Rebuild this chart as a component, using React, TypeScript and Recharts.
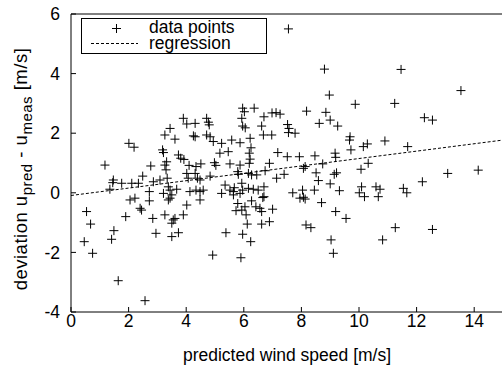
import React from 'react';
import { ScatterChart, Scatter, XAxis, YAxis, ReferenceLine } from 'recharts';

const speedValues: number[] = [
  7.55, 8.80, 11.46, 8.97, 13.54, 9.87, 11.24, 6.98, 7.12, 7.26, 8.18, 8.85, 7.52, 7.57, 7.55, 7.78, 6.97,
  8.62, 9.00, 9.26, 12.27, 12.55, 9.69, 9.67, 10.15, 10.29, 10.90, 11.69, 9.72, 7.18, 7.51, 7.93, 8.47,
  9.17, 9.19, 8.07, 8.13, 8.74, 8.51, 9.14, 9.22, 10.07, 10.32, 7.14, 7.40, 8.59, 9.00, 8.04, 8.45, 9.32,
  7.70, 7.95, 8.07, 8.13, 8.70, 10.09, 10.01, 10.19, 10.59, 10.73, 10.67, 11.54, 11.66, 12.20, 13.08, 14.14,
  7.00, 9.19, 9.55, 8.16, 8.33, 11.26, 12.55, 9.03, 10.82, 9.11,
  2.01, 2.19, 3.18, 3.21, 1.18, 2.77, 3.32, 3.26, 3.73, 3.81, 3.92, 4.10, 4.34, 4.51, 4.98, 5.03, 5.17,
  5.46, 5.52, 5.87, 6.25, 6.19, 6.22, 6.19, 6.89, 2.49, 1.45, 1.47, 1.76, 2.11, 2.34, 1.35, 2.86, 3.09,
  3.34, 2.72, 3.38, 3.44, 3.67, 3.50, 3.21, 4.02, 4.07, 4.31, 4.39, 4.48, 4.13, 4.48, 4.59, 4.83, 5.35,
  5.52, 5.64, 5.93, 5.96, 5.23, 5.64, 5.87, 6.16, 6.27, 6.45, 6.16, 6.33, 6.50, 6.70, 6.74, 6.70, 6.27,
  6.56, 2.05, 2.22, 2.72, 3.38, 3.44, 4.02, 4.48, 2.40, 2.45, 0.54, 0.68, 1.90, 2.84, 3.26, 3.55, 3.61,
  3.50, 3.90, 1.49, 1.41, 2.95, 3.50, 3.73, 0.46, 0.75, 1.64, 2.57, 4.92, 5.90, 5.38, 5.96, 6.24, 5.73,
  5.93, 6.04, 6.08, 6.12, 6.62, 6.62, 6.89, 5.79, 6.42, 6.66,
  5.96, 6.02, 6.36, 5.93, 6.70, 3.90, 4.02, 4.31, 4.71, 4.77, 4.80, 3.44, 3.26, 3.61, 4.25, 4.31, 4.71,
  4.83, 4.94, 5.23, 5.58, 5.87, 6.22, 5.96, 6.05, 6.62, 6.68, 5.79, 5.81, 4.34, 5.67, 3.30,
];

const deviationValues: number[] = [
  5.50, 4.15, 4.14, 3.28, 3.43, 2.97, 3.00, 2.68, 2.69, 2.64, 2.74, 2.70, 2.29, 2.16, 2.02, 2.00, 1.94,
  2.33, 2.44, 2.24, 2.52, 2.44, 1.88, 1.77, 1.55, 1.64, 1.74, 1.55, 1.44, 1.35, 1.21, 1.21, 1.24,
  1.33, 1.19, 0.82, 0.88, 0.97, 0.67, 0.62, 0.67, 0.79, 0.99, 0.49, 0.62, 0.41, 0.30, 0.09, 0.09, 0.07,
  0.00, -0.18, -0.15, -0.21, -0.33, 0.20, 0.00, -0.13, 0.20, 0.12, -0.13, 0.15, 0.00, 0.37, 0.65, 0.76,
  -0.55, -0.63, -0.86, -1.08, -1.17, -1.17, -1.23, -1.58, -1.58, -2.03,
  1.66, 1.53, 1.44, 1.35, 0.93, 0.90, 1.04, 0.93, 1.27, 1.16, 1.12, 0.92, 0.88, 0.97, 1.01, 0.92, 1.33,
  1.38, 0.97, 0.93, 1.51, 1.33, 1.13, 0.99, 0.99, 0.56, 0.34, 0.43, 0.32, 0.32, 0.32, 0.12, 0.37, 0.43,
  0.49, 0.04, 0.20, 0.09, 0.12, -0.07, -0.02, 0.65, 0.49, 0.65, 0.49, 0.43, 0.04, 0.04, 0.09, 0.56, 0.26,
  0.09, 0.04, 0.32, 0.09, -0.02, -0.07, -0.02, 0.65, 0.60, 0.60, 0.15, 0.12, 0.09, 0.20, 0.74, -0.13, -0.27,
  -0.52, -0.24, -0.18, -0.27, -0.24, -0.18, -0.41, -0.24, -0.52, -0.58, -0.63, -1.05, -0.80, -0.86, -0.74, -0.91, -0.86,
  -1.02, -0.74, -1.27, -1.56, -1.36, -1.47, -1.34, -1.64, -2.03, -2.95, -3.62, -2.09, -2.18, -1.34, -1.39, -1.64, -0.60,
  -0.58, -0.47, -0.74, -1.05, -0.63, -1.05, -0.97, -0.36, -0.47, -0.16,
  2.84, 2.72, 2.84, 2.50, 2.55, 2.50, 2.31, 2.33, 2.50, 2.37, 2.28, 2.16, 1.94, 1.80, 1.91, 1.88, 1.94,
  1.88, 1.72, 1.66, 1.77, 1.68, 1.83, 2.24, 2.18, 2.24, 1.94, 0.71, 0.62, 0.09, 0.17, 0.77,
];

const regressionX: number[] = [0, 15];
const regressionY: number[] = [-0.09, 1.77];

const xTicks: number[] = [0, 2, 4, 6, 8, 10, 12, 14];
const yTicks: number[] = [-4, -2, 0, 2, 4, 6];

const legendLabels: string[] = ['data points', 'regression'];

const points = speedValues.map((x, i) => ({ x, y: deviationValues[i] }));

const FONT = '"Liberation Sans", Arial, sans-serif';
const FS = 17.5;

const PlusShape = (props: any) => {
  const { cx, cy } = props;
  if (cx == null || cy == null) return null;
  return (
    <path
      d={`M${cx - 4.5},${cy}h9M${cx},${cy - 4.5}v9`}
      stroke="#000"
      strokeWidth={1}
      fill="none"
    />
  );
};

const YTitle = () => (
  <text
    transform="translate(26.5,169) rotate(-90)"
    textAnchor="middle"
    fontFamily={FONT}
    fontSize={18.5}
    letterSpacing={0.5}
    fill="#000"
  >
    deviation u
    <tspan fontSize={15} dy={5}>pred</tspan>
    <tspan dy={-5}> - u</tspan>
    <tspan fontSize={15} dy={5}>meas</tspan>
    <tspan dy={-5}> [m/s]</tspan>
  </text>
);

const XTitle = () => (
  <text x={287} y={361} textAnchor="middle" fontFamily={FONT} fontSize={FS} fill="#000">
    predicted wind speed [m/s]
  </text>
);

const LegendBox = () => (
  <svg
    width={190}
    height={40}
    style={{ position: 'absolute', left: 81, top: 18, overflow: 'visible' }}
  >
    <rect x={0.5} y={0.5} width={185} height={35} fill="#fff" stroke="#000" strokeWidth={1} />
    <path d="M31,10.5h9M35.5,6v9" stroke="#000" strokeWidth={1} />
    <line x1={10} y1={25.5} x2={57} y2={25.5} stroke="#000" strokeWidth={1} strokeDasharray="3 2" />
    <text x={68} y={15} fontFamily={FONT} fontSize={FS} fill="#000">{legendLabels[0]}</text>
    <text x={68} y={31} fontFamily={FONT} fontSize={FS} fill="#000">{legendLabels[1]}</text>
  </svg>
);

const tickStyle = { fontFamily: FONT, fontSize: FS, fill: '#000' };

export default function App() {
  return (
    <div style={{ position: 'absolute', left: 0, top: 0, width: 502, height: 367, background: '#fff' }}>
      <ScatterChart width={502} height={367} margin={{ top: 13, right: -2, bottom: 0, left: 0 }}>
        <XAxis
          dataKey="x"
          type="number"
          domain={[0, 15]}
          ticks={xTicks}
          allowDataOverflow
          height={55}
          tickSize={-5}
          tickMargin={7.5}
          tick={tickStyle}
          axisLine={{ stroke: '#000' }}
          tickLine={{ stroke: '#000' }}
          label={<XTitle />}
        />
        <XAxis
          xAxisId="top"
          orientation="top"
          type="number"
          domain={[0, 15]}
          ticks={xTicks}
          height={1}
          tickSize={-5}
          tick={false}
          axisLine={{ stroke: '#000' }}
          tickLine={{ stroke: '#000' }}
        />
        <YAxis
          dataKey="y"
          type="number"
          domain={[-4, 6]}
          ticks={yTicks}
          allowDataOverflow
          width={71}
          tickSize={-5}
          tickMargin={16}
          tick={tickStyle}
          axisLine={{ stroke: '#000' }}
          tickLine={{ stroke: '#000' }}
          label={<YTitle />}
        />
        <YAxis
          yAxisId="right"
          orientation="right"
          type="number"
          domain={[-4, 6]}
          ticks={yTicks}
          width={1}
          tickSize={-5}
          tick={false}
          axisLine={{ stroke: '#000' }}
          tickLine={{ stroke: '#000' }}
        />
        <ReferenceLine
          segment={[
            { x: regressionX[0], y: regressionY[0] },
            { x: regressionX[1], y: regressionY[1] },
          ]}
          stroke="#000"
          strokeWidth={1}
          strokeDasharray="3 2"
        />
        <Scatter data={points} shape={<PlusShape />} isAnimationActive={false} />
      </ScatterChart>
      <LegendBox />
    </div>
  );
}
